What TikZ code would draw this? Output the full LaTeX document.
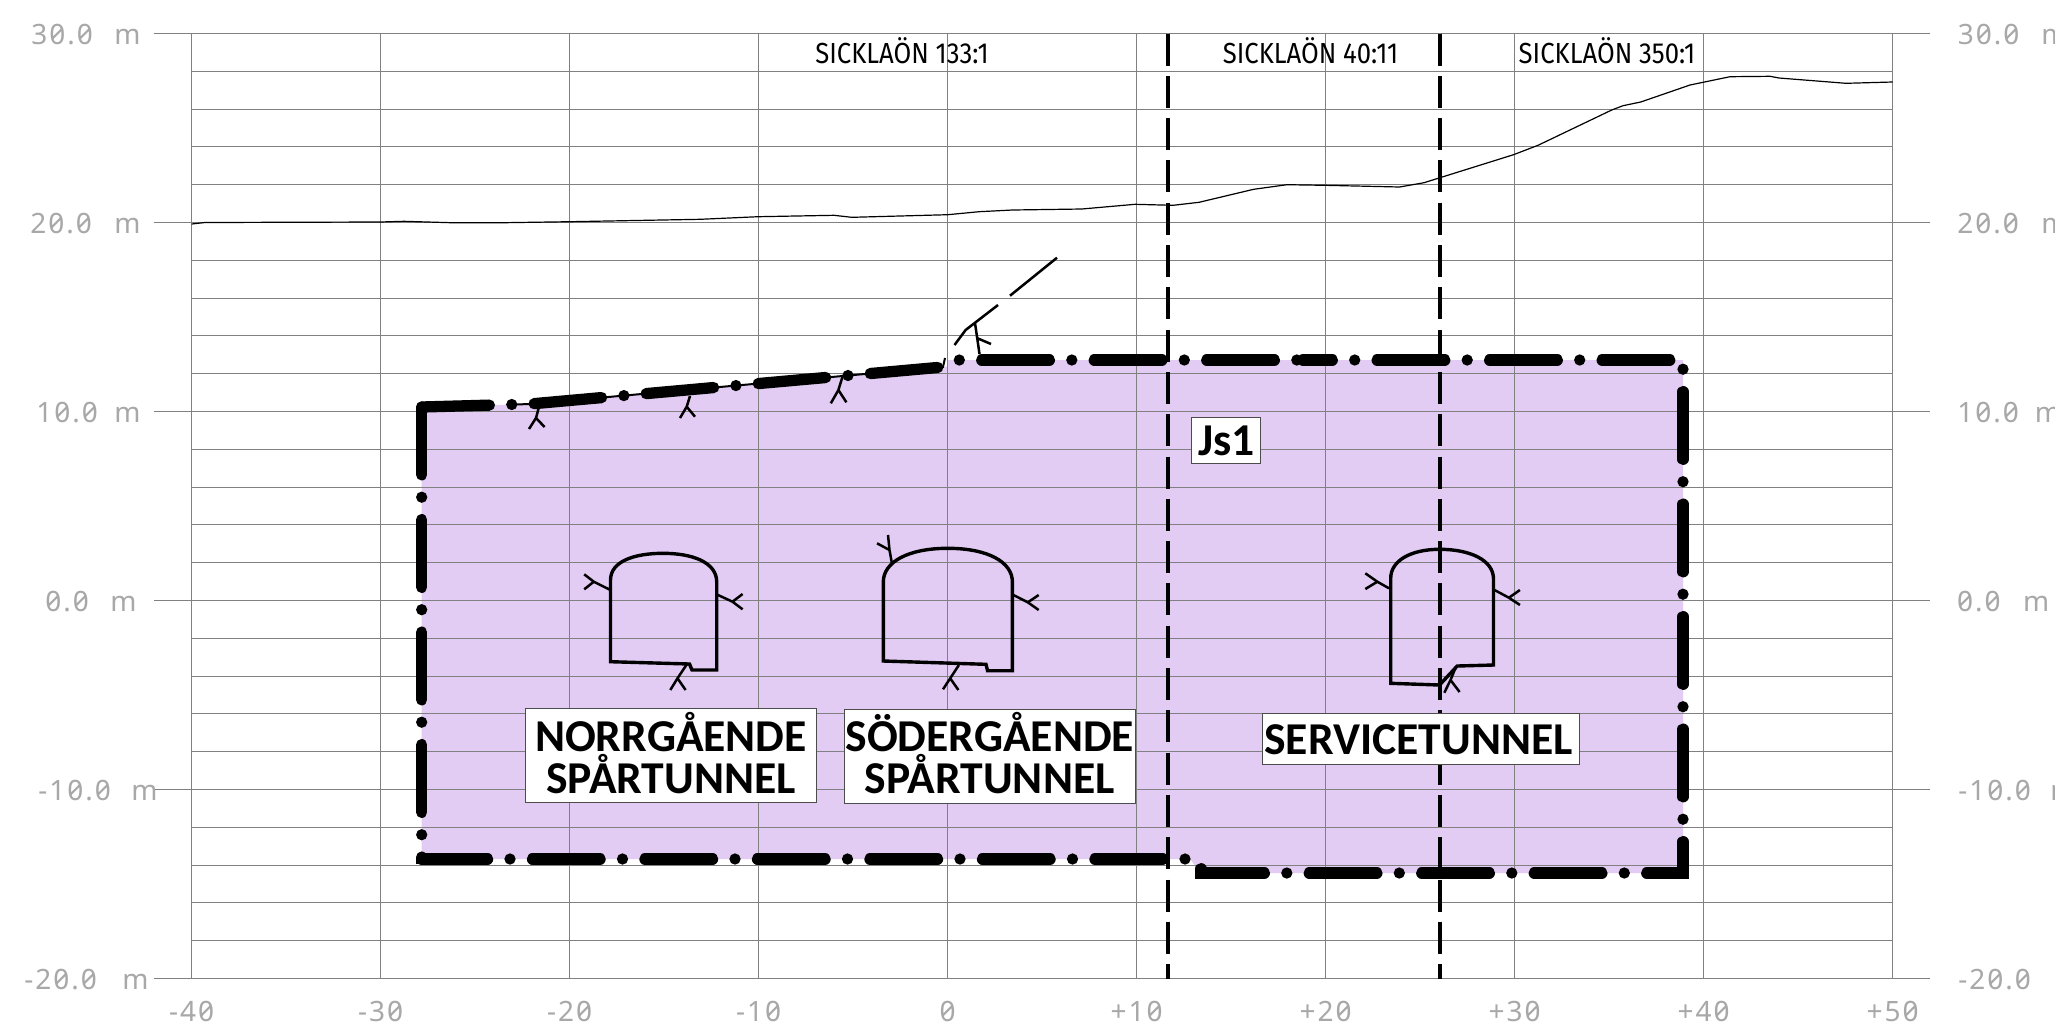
\documentclass[tikz,border=0pt]{standalone}
\usepackage{fontspec}
\setmainfont{Carlito}
\newfontfamily\cadfont[RawFeature=+zero,LetterSpace=7]{Noto Sans}
\newfontfamily\cadtop{Fira Sans}
\definecolor{purplefill}{RGB}{227,204,243}
\definecolor{gridgray}{RGB}{128,128,128}
\definecolor{labelgray}{RGB}{168,168,168}
\tikzset{
  gridline/.style={draw=gridgray,line width=0.55pt},
  profile/.style={draw=black,line width=0.6pt,line join=round},
  boundary/.style={draw=black,line width=1.85pt,dash pattern=on 16pt off 5.15pt},
  rockline/.style={draw=black,line width=5.65pt,line cap=round,dash pattern=on 33.85pt off 11.2pt on 0pt off 11.2pt},
  tunnelwall/.style={draw=black,line width=1.7pt,line join=miter},
  crack/.style={draw=black,line width=1.25pt},
  axistext/.style={text=labelgray,font=\cadfont\fontsize{14}{14}\selectfont,inner sep=0pt,anchor=base west},
  axiscentre/.style={text=labelgray,font=\cadfont\fontsize{14}{14}\selectfont,inner sep=0pt,anchor=base},
  parcel/.style={text=black,font=\cadtop\fontsize{14.5}{14}\selectfont,inner sep=0pt,anchor=base},
  namebox/.style={draw=black!70,fill=white,line width=0.5pt,inner sep=0pt},
  nametext/.style={inner sep=0pt,align=center,font=\bfseries\fontsize{22.8}{21}\selectfont,text=black},
}
\begin{document}
\begin{tikzpicture}[x=0.5pt,y=-0.5pt]
\useasboundingbox (0,0) rectangle (2055,1030);
\fill[white] (0,0) rectangle (2055,1030);
% rock mass
\fill[purplefill] (421.7,407) -- (530,404) -- (947,366.6) -- (947,360) -- (1683,360) -- (1683,873) -- (1201,873) -- (1190,859) -- (421.7,859) -- cycle;
% grid
\foreach \k in {0,...,25} {
  \draw[gridline] (191.6,33.5+37.8*\k) -- (1892.6,33.5+37.8*\k);
}
\foreach \k in {0,5,...,25} {
  \draw[gridline] (154,33.5+37.8*\k) -- (191.6,33.5+37.8*\k);
  \draw[gridline] (1892.6,33.5+37.8*\k) -- (1930,33.5+37.8*\k);
}
\foreach \k in {0,...,9} {
  \draw[gridline] (191.6+189*\k,33.5) -- (191.6+189*\k,978.5);
}
% left level labels
\foreach \nm/\tx/\xa/\xm/\yb in {a/30.0/31/114/44, b/20.0/30/114/233, c/10.0/36/114/422, d/0.0/45/110/611, e/-10.0/38/131/800, f/-20.0/24/122/989} {
  \node[axistext] (left\nm) at (\xa,\yb) {\tx};
  \node[axistext] (leftm\nm) at (\xm,\yb) {m};
}
% right level labels
\foreach \nm/\tx/\xa/\xm/\yb in {a/30.0/1957.5/2041/44, b/20.0/1957/2041/233, c/10.0/1957/2034.5/422, d/0.0/1956.7/2022.7/611, e/-10.0/1958/2050/800} {
  \node[axistext] (right\nm) at (\xa,\yb) {\tx};
  \node[axistext] (rightm\nm) at (\xm,\yb) {m};
}
\node[axistext] (rightf) at (1958,989) {-20.0};
% chainage labels
\foreach \nm/\tx/\k in {a/-40/0, b/-30/1, c/-20/2, d/-10/3, e/0/4, f/+10/5, g/+20/6, h/+30/7, i/+40/8, j/+50/9} {
  \node[axiscentre] (chain\nm) at (191.6+189*\k,1021.5) {\tx};
}
% ground profile
\draw[profile] (191.6,224) -- (205,222.5) -- (380,222) -- (404,221.3) -- (451,222.7) -- (504,222.7) -- (570,221.7) -- (700,219.3) -- (758,216.7) -- (834,215.3) -- (851.8,217.3) -- (947.8,214.7) -- (979,211.7) -- (1012.5,210) -- (1081.7,209) -- (1135,204.3) -- (1173,205.3) -- (1199,202.3) -- (1253.6,189.3) -- (1287,184.7) -- (1325,185.3) -- (1399.6,187) -- (1424,182.7) -- (1513.5,154.7) -- (1538,145.3) -- (1611.7,110) -- (1623,105.7) -- (1640.7,102) -- (1690,85) -- (1730,76.7) -- (1770,76.3) -- (1779,78) -- (1846,83.3) -- (1892.5,82);
% rock boundary
\draw[crack,line width=1pt] (512,404.6) -- (530,404) -- (943,367) -- (945,358);
\draw[rockline] (421.7,407) -- (530,404) -- (943,367);
\draw[rockline,dash phase=38.9pt] (947,360) -- (1300,360);
\draw[rockline,dash phase=19.2pt] (1303,360) -- (1683,360) -- (1683,873) -- (1201,873) -- (1201,863) -- (1190,859) -- (421.7,859);
\draw[rockline,dash phase=32.9pt] (421.7,859) -- (421.7,407);
\fill[black] (416,857.3) rectangle (427,864.3);
% property boundaries
\draw[boundary] (1168.3,33.5) -- (1168.3,978.5);
\draw[boundary] (1439.8,33.5) -- (1439.8,978.5);
% rock-surface strokes
\draw[crack] (1057,257.7) -- (1010,295.7);
\draw[crack] (998,305) -- (965.6,330) -- (954.5,345);
\draw[crack] (975,323) -- (979.5,354);
\draw[crack] (976.8,338) -- (991,344);
% cracks along the top
\draw[crack] (540,403) -- (536,418) -- (529,429);
\draw[crack] (536,418) -- (544.6,427);
\draw[crack] (690,396) -- (686.7,406.7) -- (680,418);
\draw[crack] (686.7,406.7) -- (695,416.7);
\draw[crack] (843,375) -- (838.4,390) -- (830.8,403.3);
\draw[crack] (838.4,390) -- (846.4,402.3);
% northbound tunnel
\draw[tunnelwall] (610.5,661.7) -- (610.5,580) .. controls (610.5,561) and (635,553.3) .. (663,553.3) .. controls (692,553.3) and (716.7,562) .. (716.7,582) -- (716.7,670) -- (692,670) -- (689.5,664) -- cycle;
\draw[crack] (610.5,590) -- (593.8,581.7) -- (584.2,574.3);
\draw[crack] (593.8,581.7) -- (584.2,589.3);
\draw[crack] (718,595) -- (732.5,601.7) -- (742.6,609.3);
\draw[crack] (732.5,601.7) -- (742.6,594);
\draw[crack] (687,664) -- (677.5,678.3) -- (670.3,690);
\draw[crack] (677.5,678.3) -- (685.6,690);
% southbound tunnel
\draw[tunnelwall] (883.3,661) -- (883.3,582) .. controls (883.3,562) and (908,548.3) .. (947.8,548.3) .. controls (988,548.3) and (1012.4,562) .. (1012.4,582) -- (1012.4,670.7) -- (987.6,670.7) -- (986,664.3) -- cycle;
\draw[crack] (958.9,665) -- (950.2,678.3) -- (943,689.3);
\draw[crack] (950.2,678.3) -- (958.4,690);
\draw[crack] (1013.4,595) -- (1027.8,602.3) -- (1038.7,610);
\draw[crack] (1027.8,602.3) -- (1038.7,595);
\draw[crack] (891.9,563.3) -- (889.5,550) -- (888,535);
\draw[crack] (889.5,550) -- (877,543.3);
% service tunnel
\draw[tunnelwall] (1390.7,683.3) -- (1390.7,578.3) .. controls (1390.7,560) and (1412,549.3) .. (1439.5,549.3) .. controls (1470,549.3) and (1493.5,560) .. (1493.5,579) -- (1493.5,665) -- (1457.2,666) -- (1439.5,685) -- cycle;
\draw[crack] (1389,588.3) -- (1377.3,581.7) -- (1365.3,573.3);
\draw[crack] (1377.3,581.7) -- (1365.3,589);
\draw[crack] (1494.5,590) -- (1508.9,597.7) -- (1519.9,605);
\draw[crack] (1508.9,597.7) -- (1519.9,590);
\draw[crack] (1456,666.7) -- (1450.5,680) -- (1444.3,692.7);
\draw[crack] (1450.5,680) -- (1459.6,692);
% parcel labels
\node[parcel] (parcelA) at (902,63.3) {\scalebox{0.885}[1]{SICKLAÖN 133:1}};
\node[parcel] (parcelB) at (1310.5,63.3) {\scalebox{0.885}[1]{SICKLAÖN 40:11}};
\node[parcel] (parcelC) at (1607,63.3) {\scalebox{0.885}[1]{SICKLAÖN 350:1}};
% name boxes
\node[namebox,minimum width=145.25pt,minimum height=47.2pt] (northbox) at (671,755.5) {};
\node[nametext] (north) at (671,753) {NORRGÅENDE\\SPÅRTUNNEL};
\node[namebox,minimum width=145.25pt,minimum height=47pt] (southbox) at (989.75,756.3) {};
\node[nametext] (south) at (989.75,753.3) {SÖDERGÅENDE\\SPÅRTUNNEL};
\node[namebox,minimum width=158.3pt,minimum height=25.65pt] (servicebox) at (1420.7,739.3) {};
\node[nametext] (service) at (1418.5,740) {SERVICETUNNEL};
\node[namebox,minimum width=34.65pt,minimum height=22.8pt] (jsbox) at (1226.3,440.5) {};
\node[nametext] (js) at (1226.3,441) {Js1};
\end{tikzpicture}
\end{document}
